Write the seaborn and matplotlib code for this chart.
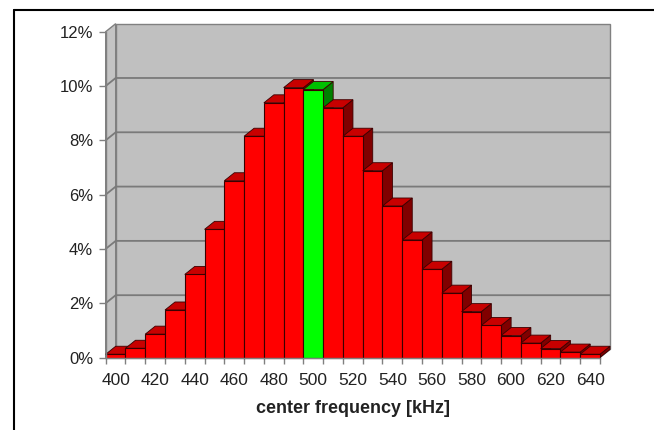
import matplotlib
matplotlib.use("Agg")
import matplotlib.pyplot as plt
import seaborn as sns
import pandas as pd
from matplotlib.patches import Polygon
from matplotlib.lines import Line2D

# ---- data ----
freqs = [400, 410, 420, 430, 440, 450, 460, 470, 480, 490, 500, 510, 520,
         530, 540, 550, 560, 570, 580, 590, 600, 610, 620, 630, 640]
shares = [0.12, 0.34, 0.86, 1.75, 3.06, 4.72, 6.51, 8.15, 9.38, 9.94, 9.87,
          9.20, 8.15, 6.88, 5.58, 4.33, 3.25, 2.37, 1.69, 1.18, 0.81, 0.53,
          0.33, 0.20, 0.12]
highlight = 500
y_ticks = [0, 2, 4, 6, 8, 10, 12]
x_label = "center frequency [kHz]"

# ---- style ----
sns.set_theme(style="white")
plt.rcParams['font.family'] = ['Liberation Sans', 'DejaVu Sans']

FRONT = {'red': '#FF0000', 'green': '#00FF00'}
TOP = {'red': '#C80000', 'green': '#00C000'}
SIDE = {'red': '#800000', 'green': '#008000'}
EDGE = '#3a0000'
TEXT = '#222222'

fig = plt.figure(figsize=(6.54, 4.30), dpi=100)
fig.patch.set_facecolor('white')
ax = fig.add_axes([0.1616, 0.1686, 0.7558, 0.7577])
ax.patch.set_facecolor('none')

df = pd.DataFrame({"freq": [str(f) for f in freqs], "share": shares})
kinds = ['green' if f == highlight else 'red' for f in freqs]
palette = [FRONT[k] for k in kinds]
sns.barplot(data=df, x="freq", y="share", hue="freq", palette=palette,
            width=1.0, edgecolor=EDGE, linewidth=0.8, saturation=1,
            legend=False, ax=ax)

n = len(freqs)
ax.set_xlim(-0.5, n - 0.5)
ax.set_ylim(y_ticks[0], y_ticks[-1])

# depth offset in data units (~10 px right, ~8 px up)
DX, DY = 0.506, 0.295
x0, x1 = -0.5, n - 0.5
ytop = y_ticks[-1]

# walls
wall_kw = dict(clip_on=False, linewidth=1.0, edgecolor='#808080')
ax.add_patch(Polygon([(x0 + DX, DY), (x1 + DX, DY), (x1 + DX, ytop + DY), (x0 + DX, ytop + DY)],
                     closed=True, facecolor='#C0C0C0', zorder=0.2, **wall_kw))
ax.add_patch(Polygon([(x0, 0), (x0 + DX, DY), (x0 + DX, ytop + DY), (x0, ytop)],
                     closed=True, facecolor='#C4C4C4', zorder=0.25, **wall_kw))
ax.add_patch(Polygon([(x0, 0), (x1, 0), (x1 + DX, DY), (x0 + DX, DY)],
                     closed=True, facecolor='#C0C0C0', zorder=0.25, **wall_kw))
for yv in y_ticks[1:-1]:
    ax.add_line(Line2D([x0, x0 + DX, x1 + DX], [yv, yv + DY, yv + DY],
                       color='#7a7a7a', linewidth=1.3, zorder=0.3, clip_on=False))

# 3D faces derived from the seaborn bars
for i, (p, k) in enumerate(zip(ax.patches[:n], kinds)):
    bx, bw, bh = p.get_x(), p.get_width(), p.get_height()
    p.set_zorder(3 + 2 * i)
    p.set_clip_on(False)
    top = Polygon([(bx, bh), (bx + bw, bh), (bx + bw + DX, bh + DY), (bx + DX, bh + DY)],
                  closed=True, facecolor=TOP[k], edgecolor=EDGE, linewidth=0.6,
                  zorder=2 + 2 * i, clip_on=False)
    side = Polygon([(bx + bw, 0), (bx + bw + DX, DY), (bx + bw + DX, bh + DY), (bx + bw, bh)],
                   closed=True, facecolor=SIDE[k], edgecolor=EDGE, linewidth=0.6,
                   zorder=2 + 2 * i, clip_on=False)
    ax.add_patch(side)
    ax.add_patch(top)

# axes / ticks
for s in ['top', 'right']:
    ax.spines[s].set_visible(False)
for s in ['left', 'bottom']:
    ax.spines[s].set_color('#808080')
    ax.spines[s].set_linewidth(1.0)
    ax.spines[s].set_zorder(100)

ax.set_yticks(y_ticks)
ax.set_yticklabels([f"{v}%" for v in y_ticks])
ax.tick_params(axis='y', which='major', left=True, length=5, width=1.0, color='#808080',
               labelsize=12, pad=4, labelcolor=TEXT)
ax.set_xticks(range(n))
ax.set_xticklabels([str(f) if f % 20 == 0 else "" for f in freqs])
ax.set_xticks([i - 0.5 for i in range(n + 1)], minor=True)
ax.tick_params(axis='x', which='major', bottom=False, length=0, labelsize=12.5, pad=11,
               labelcolor=TEXT)
ax.tick_params(axis='x', which='minor', bottom=True, length=4, width=1.0, color='#808080')
ax.set_xlabel(x_label, fontsize=13, fontweight='bold', color=TEXT, labelpad=9)
ax.set_ylabel("")

# outer frame (cropped chart border)
fig.add_artist(Line2D([14 / 654, 1], [1 - 10 / 430, 1 - 10 / 430], color='black',
                      linewidth=1.5, transform=fig.transFigure))
fig.add_artist(Line2D([14 / 654, 14 / 654], [0, 1 - 10 / 430], color='black',
                      linewidth=1.5, transform=fig.transFigure))

fig.savefig("out.png", dpi=100)
